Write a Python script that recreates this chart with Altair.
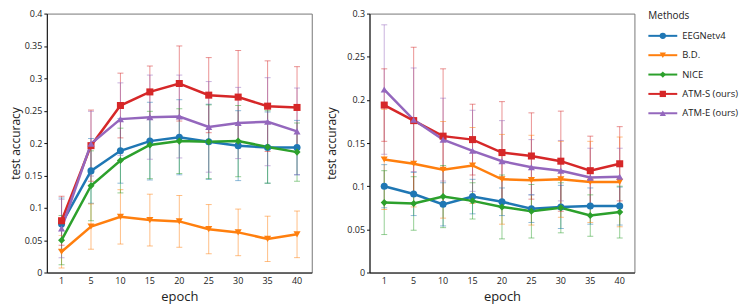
import altair as alt
import pandas as pd

epochs = ["1", "5", "10", "15", "20", "25", "30", "35", "40"]
methods = ["EEGNetv4", "B.D.", "NICE", "ATM-S (ours)", "ATM-E (ours)"]
colors = ["#1f77b4", "#ff7f0e", "#2ca02c", "#d62728", "#9467bd"]
shapes = ["circle", "triangle-down", "diamond", "square", "triangle-up"]

# Left panel: mean and std per method
left_mean = {
    "EEGNetv4":     [0.075, 0.157, 0.188, 0.203, 0.209, 0.202, 0.196, 0.193, 0.193],
    "B.D.":         [0.032, 0.071, 0.086, 0.081, 0.079, 0.067, 0.062, 0.052, 0.059],
    "NICE":         [0.050, 0.134, 0.173, 0.197, 0.203, 0.202, 0.203, 0.194, 0.186],
    "ATM-S (ours)": [0.080, 0.196, 0.258, 0.279, 0.292, 0.274, 0.271, 0.257, 0.255],
    "ATM-E (ours)": [0.068, 0.199, 0.237, 0.240, 0.241, 0.225, 0.231, 0.233, 0.218],
}
left_std = {
    "EEGNetv4":     [0.040, 0.050, 0.050, 0.060, 0.058, 0.058, 0.054, 0.055, 0.042],
    "B.D.":         [0.025, 0.035, 0.042, 0.040, 0.040, 0.038, 0.036, 0.035, 0.036],
    "NICE":         [0.038, 0.054, 0.050, 0.052, 0.050, 0.057, 0.055, 0.056, 0.045],
    "ATM-S (ours)": [0.038, 0.055, 0.050, 0.040, 0.058, 0.058, 0.072, 0.070, 0.063],
    "ATM-E (ours)": [0.045, 0.050, 0.056, 0.065, 0.064, 0.070, 0.055, 0.068, 0.067],
}

# Right panel: mean and std per method
right_mean = {
    "EEGNetv4":     [0.100, 0.091, 0.079, 0.088, 0.082, 0.074, 0.076, 0.077, 0.077],
    "B.D.":         [0.131, 0.126, 0.119, 0.124, 0.108, 0.107, 0.108, 0.105, 0.105],
    "NICE":         [0.081, 0.080, 0.088, 0.083, 0.076, 0.071, 0.075, 0.066, 0.070],
    "ATM-S (ours)": [0.194, 0.176, 0.158, 0.154, 0.139, 0.135, 0.129, 0.118, 0.126],
    "ATM-E (ours)": [0.212, 0.177, 0.154, 0.141, 0.129, 0.122, 0.118, 0.110, 0.111],
}
right_std = {
    "EEGNetv4":     [0.025, 0.025, 0.025, 0.020, 0.016, 0.016, 0.025, 0.021, 0.022],
    "B.D.":         [0.058, 0.050, 0.056, 0.044, 0.052, 0.052, 0.044, 0.047, 0.052],
    "NICE":         [0.037, 0.031, 0.036, 0.021, 0.037, 0.031, 0.029, 0.024, 0.030],
    "ATM-S (ours)": [0.042, 0.085, 0.078, 0.041, 0.059, 0.050, 0.058, 0.040, 0.043],
    "ATM-E (ours)": [0.075, 0.060, 0.048, 0.047, 0.047, 0.032, 0.035, 0.034, 0.033],
}

FONT = "Open Sans"


def make_df(mean, std):
    rows = []
    for m in methods:
        for e, v, s in zip(epochs, mean[m], std[m]):
            rows.append({"method": m, "epoch": e, "acc": v, "lo": v - s, "hi": v + s})
    return pd.DataFrame(rows)


color_scale = alt.Scale(domain=methods, range=colors)
shape_scale = alt.Scale(domain=methods, range=shapes)


def panel(df, ymax, width, height, title_pad):
    ticks = [round(i * 0.05, 2) for i in range(int(round(ymax / 0.05)) + 1)]
    x = alt.X(
        "epoch:O",
        sort=epochs,
        scale=alt.Scale(domain=epochs),
        axis=alt.Axis(
            title="epoch", labelAngle=0, ticks=False, labelPadding=4,
            labelFontSize=9, titleFontSize=13, titleFontWeight="normal",
            titlePadding=5, domainColor="#111", labelColor="#222", titleColor="#222",
        ),
    )
    y_axis = alt.Axis(
        title="test accuracy", values=ticks, format=".2~f", tickSize=3,
        labelPadding=2, labelFontSize=9, titleFontSize=12, titleFontWeight="normal",
        titlePadding=title_pad, domainColor="#111", tickColor="#111", labelColor="#222",
        titleColor="#222", grid=False, labelOverlap=False,
    )
    y_scale = alt.Scale(domain=[0, ymax], nice=False)
    y = alt.Y("acc:Q", scale=y_scale, axis=y_axis)
    color = alt.Color("method:N", scale=color_scale, legend=None)
    base = alt.Chart(df)
    rules = base.mark_rule(strokeWidth=1, opacity=0.5).encode(
        x=x, y=alt.Y("lo:Q", scale=y_scale, axis=y_axis), y2="hi:Q", color=color
    )
    tick_lo = base.mark_tick(size=6, thickness=1, opacity=0.5, orient="horizontal").encode(
        x=x, y=alt.Y("lo:Q", scale=y_scale, axis=y_axis), color=color
    )
    tick_hi = base.mark_tick(size=6, thickness=1, opacity=0.5, orient="horizontal").encode(
        x=x, y=alt.Y("hi:Q", scale=y_scale, axis=y_axis), color=color
    )
    line = base.mark_line(strokeWidth=2.5).encode(x=x, y=y, color=color, detail="method:N")
    pts = base.mark_point(filled=True, size=50, opacity=1).encode(
        x=x, y=y, color=color,
        shape=alt.Shape("method:N", scale=shape_scale, legend=None),
    )
    return alt.layer(rules, tick_lo, tick_hi, line, pts).properties(width=width, height=height)


left = panel(make_df(left_mean, left_std), 0.4, 266, 260, 2)
right = panel(make_df(right_mean, right_std), 0.3, 266, 260, 8)

# Legend panel built from the method list
legend_rows = ["Methods"] + methods
leg_df = pd.DataFrame({"method": methods})
title_df = pd.DataFrame({"method": ["Methods"]})
ly = alt.Y("method:N", scale=alt.Scale(type="point", domain=legend_rows, padding=0.15), axis=None)
lcolor = alt.Color("method:N", scale=color_scale, legend=None)
leg_base = alt.Chart(leg_df)
leg_rule = leg_base.mark_rule(strokeWidth=2).encode(
    y=ly, x=alt.value(0), x2=alt.value(29), color=lcolor
)
leg_pt = leg_base.mark_point(filled=True, size=40, opacity=1).encode(
    y=ly, x=alt.value(14.5), color=lcolor,
    shape=alt.Shape("method:N", scale=shape_scale, legend=None),
)
leg_txt = leg_base.mark_text(align="left", baseline="middle", fontSize=9.5, font=FONT, color="#222").encode(
    y=ly, x=alt.value(34), text="method:N"
)
leg_title = alt.Chart(title_df).mark_text(
    align="left", baseline="middle", fontSize=10, font=FONT, color="#222"
).encode(y=ly, x=alt.value(0), text="method:N")
legend = alt.layer(leg_rule, leg_pt, leg_txt, leg_title).properties(
    width=88, height=103, view=alt.ViewBackground(strokeWidth=0, stroke="transparent")
)

chart = (
    alt.hconcat(left, right, legend, spacing=12)
    .properties(padding=0)
    .configure_view(stroke="#777", strokeWidth=1)
    .configure_axis(labelFont=FONT, titleFont=FONT)
    .configure_text(font=FONT)
)

chart.save("out.html", embed_options={"renderer": "svg", "actions": False})
